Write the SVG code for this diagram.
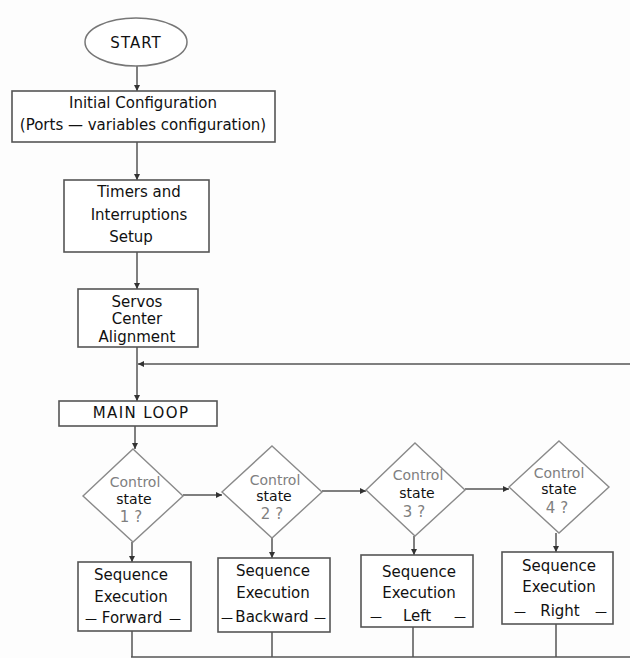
<svg xmlns="http://www.w3.org/2000/svg" width="630" height="658" viewBox="0 0 630 658">
<defs>
<marker id="ah" viewBox="0 0 6 6" refX="6" refY="3" markerWidth="6" markerHeight="6" markerUnits="userSpaceOnUse" orient="auto">
<path d="M0,0 L6,3 L0,6 z" fill="#333"/>
</marker>
<style>
.bg{fill:#fdfdfd}
.box{fill:#ffffff;stroke:#555;stroke-width:1.6}
.dia{fill:#ffffff;stroke:#8a8a8a;stroke-width:1.4}
.ln{fill:none;stroke:#555;stroke-width:1.5}
.ar{fill:none;stroke:#555;stroke-width:1.5;marker-end:url(#ah)}
text{font-family:"DejaVu Sans","Liberation Sans",sans-serif;font-size:15px;fill:#111;text-anchor:middle}
.g{fill:#808080;font-size:14px}
.q{fill:#808080;font-size:15px}
.s{font-size:14px}
.d{font-size:12px}
</style>
</defs>
<rect class="bg" x="0" y="0" width="630" height="658"/>
<g id="connectors">
<line class="ar" x1="137" y1="66" x2="137" y2="91"/>
<line class="ar" x1="137" y1="142" x2="137" y2="180"/>
<line class="ar" x1="137" y1="252" x2="137" y2="289"/>
<line class="ar" x1="137" y1="347" x2="137" y2="401"/>
<line class="ar" x1="630" y1="364" x2="138" y2="364"/>
<line class="ar" x1="135" y1="426" x2="135" y2="449"/>
<line class="ar" x1="183" y1="495" x2="222" y2="495"/>
<line class="ar" x1="322" y1="491" x2="366" y2="491"/>
<line class="ar" x1="465" y1="489" x2="509" y2="489"/>
<line class="ar" x1="132" y1="542" x2="132" y2="562"/>
<line class="ar" x1="272" y1="538" x2="272" y2="558"/>
<line class="ar" x1="414" y1="536" x2="414" y2="555"/>
<line class="ar" x1="556" y1="533" x2="556" y2="552"/>
<line class="ln" x1="132" y1="631" x2="132" y2="657"/>
<line class="ln" x1="272" y1="632" x2="272" y2="657"/>
<line class="ln" x1="413" y1="627" x2="413" y2="657"/>
<line class="ln" x1="556" y1="624" x2="556" y2="657"/>
<line class="ln" x1="131" y1="657" x2="630" y2="657"/>
</g>
<g id="start">
<ellipse cx="136" cy="42" rx="51" ry="24" fill="#fff" stroke="#777" stroke-width="1.5"/>
<text x="136" y="48" letter-spacing="1">START</text>
</g>
<g id="init">
<rect class="box" x="12" y="91" width="263" height="51"/>
<text x="143" y="108">Initial Configuration</text>
<text x="143" y="130">(Ports — variables configuration)</text>
</g>
<g id="timers">
<rect class="box" x="64" y="180" width="145" height="72"/>
<text x="139" y="197">Timers and</text>
<text x="139" y="220">Interruptions</text>
<text x="131" y="242">Setup</text>
</g>
<g id="servos">
<rect class="box" x="78" y="289" width="120" height="58"/>
<text x="137" y="307">Servos</text>
<text x="137" y="324">Center</text>
<text x="137" y="342">Alignment</text>
</g>
<g id="mainloop">
<rect class="box" x="59" y="401" width="158" height="25"/>
<text x="141" y="418" letter-spacing="1.4">MAIN LOOP</text>
</g>
<g id="d1">
<polygon class="dia" points="133,449 183,496 133,542 83,496"/>
<text class="g" x="135" y="487">Control</text>
<text class="s" x="134" y="504">state</text>
<text class="q" x="131" y="522">1 ?</text>
</g>
<g id="d2">
<polygon class="dia" points="272,446 322,492 272,538 222,492"/>
<text class="g" x="275" y="485">Control</text>
<text class="s" x="274" y="501">state</text>
<text class="q" x="272" y="519">2 ?</text>
</g>
<g id="d3">
<polygon class="dia" points="415,443 465,490 415,536 366,490"/>
<text class="g" x="418" y="480">Control</text>
<text class="s" x="417" y="498">state</text>
<text class="q" x="414" y="517">3 ?</text>
</g>
<g id="d4">
<polygon class="dia" points="559,441 609,487 559,533 509,487"/>
<text class="g" x="559" y="478">Control</text>
<text class="s" x="559" y="494">state</text>
<text class="q" x="557" y="513">4 ?</text>
</g>
<g id="b1">
<rect class="box" x="78" y="562" width="113" height="69"/>
<text x="131" y="580">Sequence</text>
<text x="131" y="602">Execution</text>
<text y="623"><tspan class="d" x="91">—</tspan><tspan x="132">Forward</tspan><tspan class="d" x="175">—</tspan></text>
</g>
<g id="b2">
<rect class="box" x="218" y="558" width="112" height="74"/>
<text x="273" y="576">Sequence</text>
<text x="273" y="598">Execution</text>
<text y="622"><tspan class="d" x="227">—</tspan><tspan x="272">Backward</tspan><tspan class="d" x="320">—</tspan></text>
</g>
<g id="b3">
<rect class="box" x="361" y="555" width="112" height="72"/>
<text x="419" y="577">Sequence</text>
<text x="419" y="598">Execution</text>
<text y="621"><tspan class="d" x="376">—</tspan><tspan x="417">Left</tspan><tspan class="d" x="460">—</tspan></text>
</g>
<g id="b4">
<rect class="box" x="502" y="552" width="111" height="72"/>
<text x="559" y="571">Sequence</text>
<text x="559" y="592">Execution</text>
<text y="616"><tspan class="d" x="520">—</tspan><tspan x="560">Right</tspan><tspan class="d" x="601">—</tspan></text>
</g>
</svg>
